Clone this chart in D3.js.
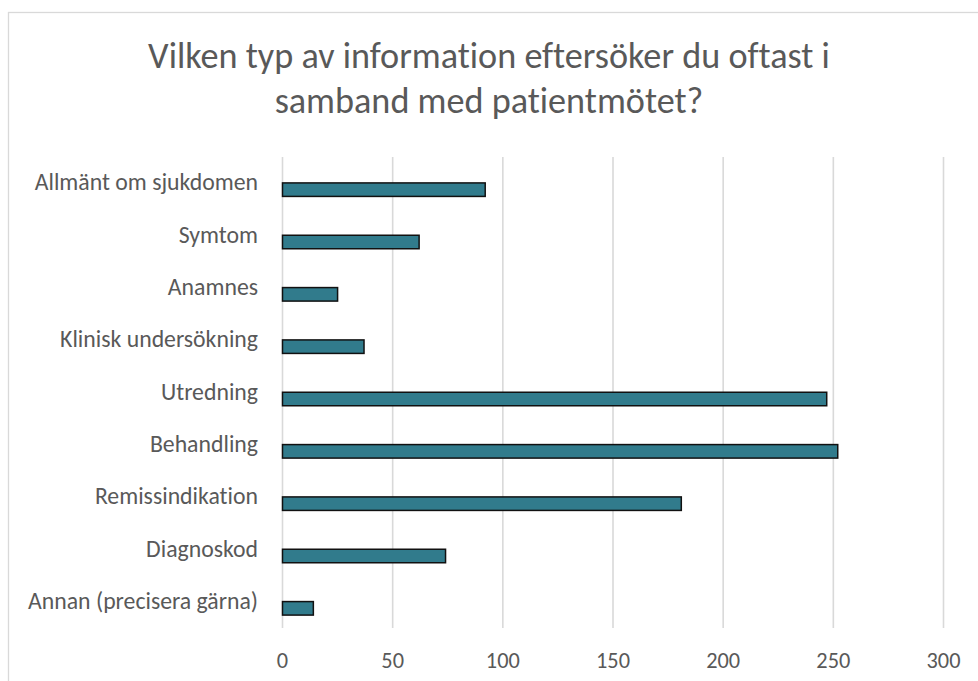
<!DOCTYPE html>
<html>
<head>
<meta charset="utf-8">
<script src="https://cdn.jsdelivr.net/npm/d3@7"></script>
<style>
  html, body { margin: 0; padding: 0; background: #fff; }
  svg { display: block; }
  text { font-family: Carlito, Lato, "Open Sans", sans-serif; fill: #595959; font-variant-ligatures: none; font-feature-settings: "liga" 0, "clig" 0; }
</style>
</head>
<body>
<svg id="chart" width="978" height="681"></svg>
<script>
const titleLines = ["Vilken typ av information eftersöker du oftast i", "samband med patientmötet?"];
const categories = ["Allmänt om sjukdomen", "Symtom", "Anamnes", "Klinisk undersökning", "Utredning", "Behandling", "Remissindikation", "Diagnoskod", "Annan (precisera gärna)"];
const values = [92, 62, 25, 37, 247, 252, 181, 74, 14];
const tickValues = [0, 50, 100, 150, 200, 250, 300];

const svg = d3.select("#chart");
const W = 978, H = 681;

// chart border
svg.append("rect")
  .attr("x", 8.5).attr("y", 12.5)
  .attr("width", W + 20).attr("height", H + 20)
  .attr("fill", "#fff").attr("stroke", "#d9d9d9").attr("stroke-width", 1.3);

const x = d3.scaleLinear().domain([0, 300]).range([282.5, 943.5]);
const y = d3.scaleBand().domain(categories).range([157, 628]).padding(0);

// gridlines
svg.append("g").selectAll("line").data(tickValues).join("line")
  .attr("x1", d => x(d)).attr("x2", d => x(d))
  .attr("y1", 157).attr("y2", 628)
  .attr("stroke", "#d9d9d9").attr("stroke-width", 1.6);

// bars
const barH = 13.5;
svg.append("g").selectAll("rect").data(values).join("rect")
  .attr("x", x(0))
  .attr("y", (d, i) => y(categories[i]) + y.bandwidth() / 2 + 6.5 - barH / 2)
  .attr("width", d => x(d) - x(0))
  .attr("height", barH)
  .attr("fill", "#317b8c")
  .attr("stroke", "#111").attr("stroke-width", 1.5);

// category labels
const labG = svg.append("g");
labG.selectAll("text").data(categories).join("text")
  .attr("x", 258)
  .attr("y", d => y(d) + y.bandwidth() / 2 + 7)
  .attr("text-anchor", "end")
  .style("font-size", "20px")
  .text(d => d);

// fit label size to reference width of "Klinisk undersökning" (~198px)
(function () {
  const t = labG.selectAll("text").filter(d => d === "Klinisk undersökning").node();
  const w = t.getComputedTextLength();
  const fs = 20 * 198 / w;
  labG.selectAll("text").style("font-size", fs + "px");
})();

// tick labels
const tickG = svg.append("g");
tickG.selectAll("text").data(tickValues).join("text")
  .attr("x", d => x(d)).attr("y", 667.5)
  .attr("text-anchor", "middle")
  .style("font-size", "20px")
  .text(d => d);
(function () {
  const t = tickG.selectAll("text").filter(d => d === 300).node();
  const w = t.getComputedTextLength();
  const fs = Math.min(23, 20 * 34 / w);
  tickG.selectAll("text").style("font-size", fs + "px");
})();

// title
const titleG = svg.append("g");
titleG.selectAll("text").data(titleLines).join("text")
  .attr("x", W / 2)
  .attr("y", (d, i) => 67.5 + i * 45)
  .attr("text-anchor", "middle")
  .style("font-size", "32px")
  .text(d => d);
(function () {
  const t = titleG.select("text").node();
  const w = t.getComputedTextLength();
  const fs = 32 * 682 / w;
  titleG.selectAll("text").style("font-size", fs + "px");
})();
</script>
</body>
</html>
